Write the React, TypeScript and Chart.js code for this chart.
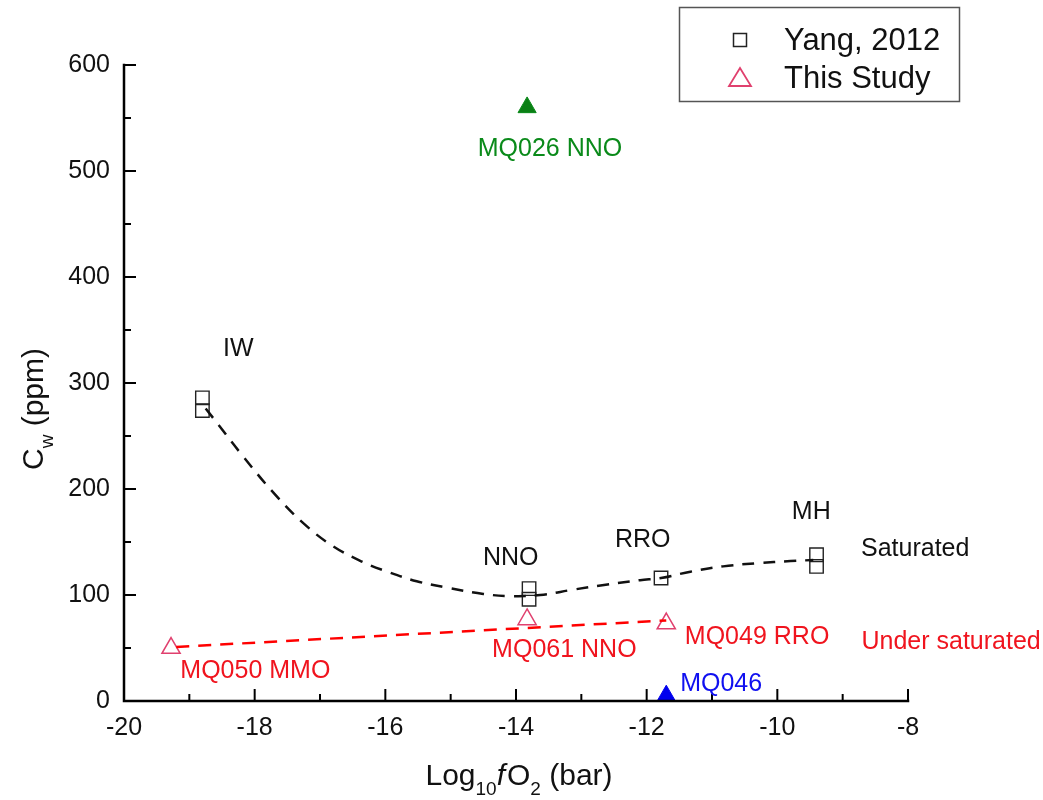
import React, { useEffect, useRef } from "react";
import { Chart, registerables } from "chart.js";

Chart.register(...registerables);

// ---- Data ----
const yangX = [-18.8, -18.8, -13.8, -13.8, -11.78, -9.4, -9.4];
const yangY = [286, 274, 106, 96, 116, 138, 127];

const studyX = [-19.28, -13.83, -11.7];
const studyY = [50, 77, 73];

const mq026X = [-13.83];
const mq026Y = [560];
const mq046X = [-11.7];
const mq046Y = [5];

const saturatedX = [-18.75, -18.56, -18.18, -17.72, -17.26, -16.8, -16.34, -15.97, -15.52, -15.06, -14.5, -14.1, -13.63, -13.13, -12.6, -12.1, -11.78, -11.33, -10.83, -10.31, -9.8, -9.45];
const saturatedY = [276, 261, 231, 197, 168, 146, 131, 122, 113, 107, 101, 99, 100, 105, 110, 114, 116, 122, 127, 130, 132, 133];

const underX = [-19.2, -11.7];
const underY = [51, 76];

const xTicks = [-20, -18, -16, -14, -12, -10, -8];
const yTicks = [0, 100, 200, 300, 400, 500, 600];

const labelTexts = ["IW", "NNO", "RRO", "MH", "Saturated", "Under saturated", "MQ050 MMO", "MQ061 NNO", "MQ049 RRO", "MQ046", "MQ026 NNO"];
const labelX = [-18.25, -14.08, -12.06, -9.48, -7.89, -7.34, -17.99, -13.26, -10.31, -10.86, -13.48];
const labelY = [332, 135, 152, 178, 143, 56, 28, 48, 60, 16, 521];
const labelColors = ["#111", "#111", "#111", "#111", "#111", "#f0141e", "#f0141e", "#f0141e", "#f0141e", "#1010f0", "#0a8a1a"];

const legendNames = ["Yang, 2012", "This Study"];

const FONT = "'Liberation Sans', Arial, sans-serif";
const TRI_COLOR = "#e0406e";

const zip = (xs: number[], ys: number[]) => xs.map((x, i) => ({ x, y: ys[i] }));

const overlayPlugin = {
  id: "overlay",
  afterDraw(chart: any) {
    const ctx = chart.ctx as CanvasRenderingContext2D;
    const xs = chart.scales.x;
    const ys = chart.scales.y;
    const { left, right, top, bottom } = chart.chartArea;
    ctx.save();
    // axes
    ctx.strokeStyle = "#000";
    ctx.lineWidth = 2.5;
    ctx.lineCap = "square";
    ctx.beginPath();
    ctx.moveTo(left, top);
    ctx.lineTo(left, bottom);
    ctx.lineTo(right, bottom);
    ctx.stroke();
    ctx.lineCap = "butt";
    ctx.lineWidth = 2;
    for (let v = -20; v <= -8; v += 1) {
      const px = xs.getPixelForValue(v);
      const len = v % 2 === 0 ? 12 : 7;
      ctx.beginPath();
      ctx.moveTo(px, bottom);
      ctx.lineTo(px, bottom - len);
      ctx.stroke();
    }
    for (let v = 0; v <= 600; v += 50) {
      const py = ys.getPixelForValue(v);
      const len = v % 100 === 0 ? 12 : 7;
      ctx.beginPath();
      ctx.moveTo(left, py);
      ctx.lineTo(left + len, py);
      ctx.stroke();
    }

    // annotation labels
    ctx.font = `25px ${FONT}`;
    ctx.textAlign = "center";
    ctx.textBaseline = "middle";
    labelTexts.forEach((t, i) => {
      ctx.fillStyle = labelColors[i];
      ctx.fillText(t, xs.getPixelForValue(labelX[i]), ys.getPixelForValue(labelY[i]));
    });

    // x title with subscripts
    const parts: [string, string, number][] = [
      ["Log", `30px ${FONT}`, 0],
      ["10", `19px ${FONT}`, 10],
      ["f", `italic 30px ${FONT}`, 0],
      ["O", `30px ${FONT}`, 0],
      ["2", `19px ${FONT}`, 10],
      [" (bar)", `30px ${FONT}`, 0],
    ];
    let total = 0;
    const widths = parts.map(([t, f]) => {
      ctx.font = f;
      const w = ctx.measureText(t).width;
      total += w;
      return w;
    });
    let cx = 518 - total / 2;
    ctx.textAlign = "left";
    ctx.textBaseline = "alphabetic";
    ctx.fillStyle = "#111";
    parts.forEach(([t, f, dy], i) => {
      ctx.font = f;
      ctx.fillText(t, cx, 785 + dy);
      cx += widths[i] + (t === "f" ? 2 : 0);
    });

    // y title rotated
    const yparts: [string, string, number][] = [
      ["C", `30px ${FONT}`, 0],
      ["w", `19px ${FONT}`, 10],
      [" (ppm)", `30px ${FONT}`, 0],
    ];
    let ytotal = 0;
    const ywidths = yparts.map(([t, f]) => {
      ctx.font = f;
      const w = ctx.measureText(t).width;
      ytotal += w;
      return w;
    });
    ctx.save();
    ctx.translate(43, 409);
    ctx.rotate(-Math.PI / 2);
    let lx = -ytotal / 2;
    yparts.forEach(([t, f, dy], i) => {
      ctx.font = f;
      ctx.fillText(t, lx, dy);
      lx += ywidths[i];
    });
    ctx.restore();

    // legend box
    ctx.strokeStyle = "#555";
    ctx.lineWidth = 1.5;
    ctx.strokeRect(679.5, 7.5, 280, 94);
    ctx.strokeStyle = "#222";
    ctx.strokeRect(733.5, 33.5, 13, 13);
    ctx.strokeStyle = TRI_COLOR;
    ctx.lineWidth = 1.8;
    ctx.beginPath();
    ctx.moveTo(740, 68);
    ctx.lineTo(751, 86);
    ctx.lineTo(729, 86);
    ctx.closePath();
    ctx.stroke();
    ctx.fillStyle = "#111";
    ctx.font = `31px ${FONT}`;
    ctx.textAlign = "left";
    ctx.textBaseline = "middle";
    ctx.fillText(legendNames[0], 784, 41);
    ctx.fillText(legendNames[1], 784, 79);
    ctx.restore();
  },
};

export default function App() {
  const ref = useRef<HTMLCanvasElement | null>(null);
  useEffect(() => {
    if (!ref.current) return;
    const chart = new Chart(ref.current, {
      type: "scatter",
      data: {
        datasets: [
          {
            label: "Saturated",
            type: "line",
            data: zip(saturatedX, saturatedY),
            borderColor: "#111",
            borderWidth: 2.5,
            borderDash: [12, 9],
            pointRadius: 0,
            tension: 0.4,
            fill: false,
          } as any,
          {
            label: "Under saturated",
            type: "line",
            data: zip(underX, underY),
            borderColor: "#ff0000",
            borderWidth: 2.5,
            borderDash: [13, 9],
            pointRadius: 0,
            fill: false,
          } as any,
          {
            label: legendNames[0],
            data: zip(yangX, yangY),
            pointStyle: "rect",
            pointRadius: 9.5,
            borderColor: "#222",
            backgroundColor: "rgba(0,0,0,0)",
            borderWidth: 1.4,
          },
          {
            label: legendNames[1],
            data: zip(studyX, studyY),
            pointStyle: "triangle",
            pointRadius: 10.5,
            borderColor: TRI_COLOR,
            backgroundColor: "rgba(0,0,0,0)",
            borderWidth: 1.5,
          },
          {
            label: "MQ026",
            data: zip(mq026X, mq026Y),
            pointStyle: "triangle",
            pointRadius: 10.5,
            borderColor: "#0a8a1a",
            backgroundColor: "#0a7f14",
            borderWidth: 1,
          },
          {
            label: "MQ046",
            data: zip(mq046X, mq046Y),
            pointStyle: "triangle",
            pointRadius: 10.5,
            borderColor: "#0000ee",
            backgroundColor: "#0000ee",
            borderWidth: 1,
            clip: false,
          } as any,
        ],
      },
      options: {
        animation: false,
        responsive: false,
        layout: { padding: { top: 65, right: 135, left: 0, bottom: 0 } },
        plugins: { legend: { display: false }, tooltip: { enabled: false } },
        scales: {
          x: {
            type: "linear",
            min: -20,
            max: -8,
            afterFit: (s: any) => {
              s.height = 99;
            },
            afterBuildTicks: (s: any) => {
              s.ticks = xTicks.map((v) => ({ value: v }));
            },
            ticks: {
              color: "#111",
              font: { size: 25, family: FONT },
              padding: 12,
              maxRotation: 0,
              autoSkip: false,
            },
            grid: { display: false, drawTicks: false },
            border: { display: false },
          },
          y: {
            type: "linear",
            min: 0,
            max: 600,
            afterFit: (s: any) => {
              s.width = 124;
            },
            afterBuildTicks: (s: any) => {
              s.ticks = yTicks.map((v) => ({ value: v }));
            },
            ticks: {
              color: "#111",
              font: { size: 25, family: FONT },
              padding: 14,
              autoSkip: false,
            },
            grid: { display: false, drawTicks: false },
            border: { display: false },
          },
        },
      },
      plugins: [overlayPlugin],
    });
    return () => chart.destroy();
  }, []);
  return (
    <div style={{ position: "absolute", left: 0, top: 0, width: 1043, height: 800, background: "#fff" }}>
      <canvas ref={ref} width={1043} height={800} />
    </div>
  );
}
